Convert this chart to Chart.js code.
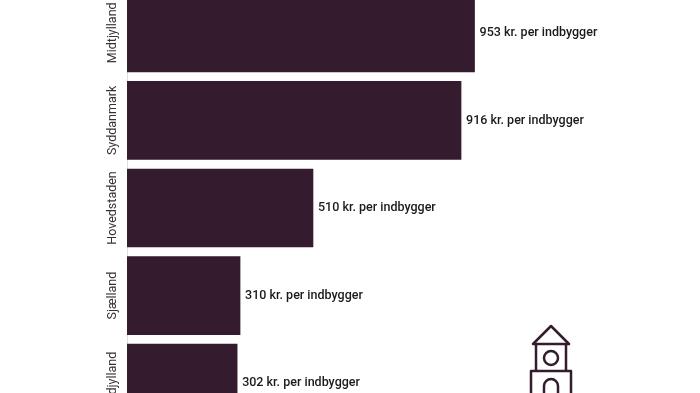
<!DOCTYPE html>
<html lang="da">
<head>
<meta charset="UTF-8">
<title>Regioner</title>
<script src="https://cdn.jsdelivr.net/npm/chart.js@4/dist/chart.umd.min.js"></script>
<style>
    html, body { margin: 0; width: 700px; height: 393px; overflow: hidden; background: #fff; }
    #revenueChart { position: absolute; left: 0; top: -11px; }
    #tower { position: absolute; left: 520px; top: 320px; }
</style>
</head>
<body>
<canvas id="revenueChart" width="700" height="438"></canvas>
<svg id="tower" width="62" height="73" viewBox="520 320 62 73" fill="none" stroke="#341b2d" stroke-width="2.5" stroke-linejoin="round">
    <path d="M533 344 L551 326 L569 344 Z"/>
    <path d="M536 344 V371 M566 344 V371"/>
    <circle cx="551" cy="358" r="7"/>
    <path d="M531 394 V371 H571 V394"/>
    <path d="M544 394 V386 A7 7 0 0 1 558 386 V394"/>
</svg>
<script>
const regions = ['Midtjylland', 'Syddanmark', 'Hovedstaden', 'Sjælland', 'Nordjylland'];
const perCitizen = [953, 916, 510, 310, 302];
const valueSuffix = ' kr. per indbygger';

const barColor = '#341b2d';
const fontFamily = 'Roboto, sans-serif';

// Value text to the right of every bar, region names rotated and centred on their tick
const barLabels = {
    id: 'barLabels',
    afterDatasetsDraw(chart) {
        const c = chart.ctx;
        c.save();
        c.font = '500 12.5px ' + fontFamily;
        c.fillStyle = '#1a1a1a';
        c.textBaseline = 'middle';
        chart.getDatasetMeta(0).data.forEach((bar, i) => {
            c.fillText(perCitizen[i] + valueSuffix, bar.x + 5, bar.y);
        });
        c.restore();

        const yScale = chart.scales.y;
        c.save();
        c.font = '12.5px ' + fontFamily;
        c.fillStyle = '#333333';
        c.textAlign = 'center';
        c.textBaseline = 'middle';
        regions.forEach((name, i) => {
            c.save();
            c.translate(yScale.right - 14, yScale.getPixelForTick(i));
            c.rotate(-Math.PI / 2);
            c.fillText(name, 0, 0);
            c.restore();
        });
        c.restore();
    }
};

new Chart(document.getElementById('revenueChart').getContext('2d'), {
    type: 'bar',
    data: {
        labels: regions,
        datasets: [{
            data: perCitizen,
            backgroundColor: barColor,
            borderWidth: 0,
            barThickness: 78
        }]
    },
    options: {
        indexAxis: 'y',
        responsive: false,
        animation: false,
        layout: { padding: { left: 0, right: 26, top: 0, bottom: 0 } },
        plugins: { legend: { display: false }, tooltip: { enabled: false } },
        scales: {
            x: {
                display: false,
                min: 0,
                max: 1500
            },
            y: {
                grid: { display: false, drawTicks: false },
                border: { color: '#e0dfe0', width: 1 },
                afterFit(scale) {
                    scale.width = 127;
                    scale.paddingTop = 0;
                    scale.paddingBottom = 0;
                },
                ticks: { display: false }
            }
        }
    },
    plugins: [barLabels]
});
</script>
</body>
</html>
